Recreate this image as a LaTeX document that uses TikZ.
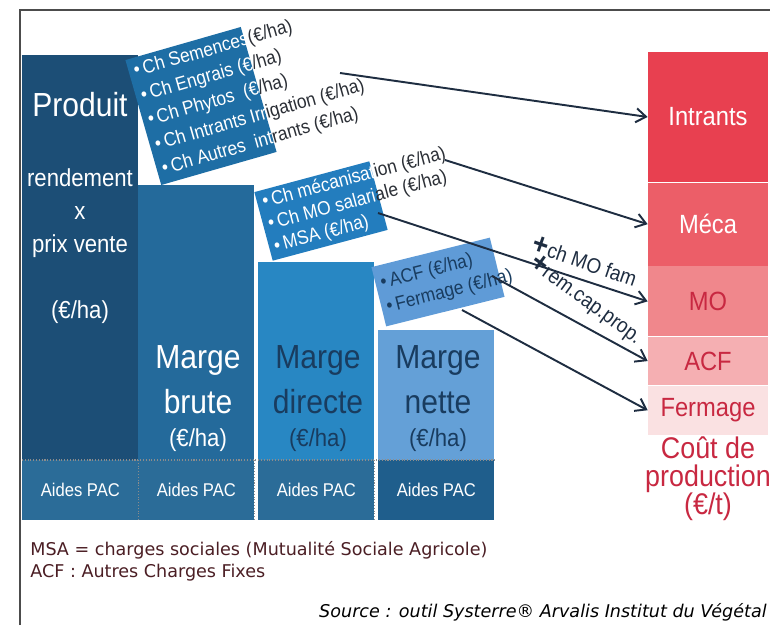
\documentclass[tikz,border=0pt]{standalone}
\usepackage{fontspec}
\setmainfont{Liberation Sans}[FakeStretch=0.9]
\newfontfamily\notefont{DejaVu Sans}
\usetikzlibrary{arrows.meta, calc, positioning}
\definecolor{produitc}{HTML}{1C4E76}
\definecolor{brutec}{HTML}{246A9B}
\definecolor{directec}{HTML}{2887C3}
\definecolor{nettec}{HTML}{64A0D7}
\definecolor{aidesc}{HTML}{2B6C98}
\definecolor{aidesnc}{HTML}{1F5E8C}
\definecolor{tagac}{HTML}{1E6EA5}
\definecolor{tagbc}{HTML}{237DBE}
\definecolor{tagcc}{HTML}{5F9BD7}
\definecolor{intrantsc}{HTML}{E84050}
\definecolor{mecac}{HTML}{EC5E68}
\definecolor{moc}{HTML}{F0878C}
\definecolor{acfc}{HTML}{F5AFB2}
\definecolor{fermagec}{HTML}{FAE1E2}
\definecolor{costtxt}{HTML}{C82841}
\definecolor{darktxt}{HTML}{193C5F}
\definecolor{outtxt}{HTML}{2B2F36}
\definecolor{arrowc}{HTML}{1E2D41}
\definecolor{notec}{HTML}{4B1E24}
\tikzstyle{line} = [draw=arrowc, line width=1.1pt, -{Straight Barb[length=2mm, width=2.8mm]}]
\tikzstyle{col} = [rectangle, minimum width=2.32cm, inner sep=0pt, anchor=south west]
\tikzstyle{aides} = [rectangle, minimum width=2.32cm, minimum height=1.2cm, inner sep=0pt, text=white, font=\fontsize{10.5}{12}\selectfont]
\tikzstyle{sep} = [draw=black!45, densely dotted, line width=0.6pt]
\tikzstyle{bigtxt} = [inner sep=0pt, align=center, font=\fontsize{19}{25.6}\selectfont]
\tikzstyle{midtxt} = [inner sep=0pt, align=center, font=\fontsize{14}{18.8}\selectfont]
\tikzstyle{cost} = [rectangle, minimum width=2.4cm, inner sep=0pt, font=\fontsize{15}{18}\selectfont]
\tikzstyle{tag} = [rectangle, inner sep=0pt]
\tikzstyle{taglist} = [align=left, inner sep=3pt, anchor=west, text=white, font=\fontsize{11}{14.5}\selectfont]
\tikzstyle{plus} = [inner sep=0pt, text=arrowc, font=\fontsize{12}{14}\selectfont]

\begin{document}
\begin{tikzpicture}[x=0.02cm, y=-0.02cm]
\useasboundingbox (0,0) rectangle (770,625);
\draw [black!70, line width=0.8pt] (20,625) -- (20,10) -- (770,10);

% columns (€/ha)
\node [col, fill=produitc, minimum height=8.1cm] (produit) at (22,460) {};
\node [col, fill=brutec, minimum height=5.5cm] (brute) at (138,460) {};
\node [col, fill=directec, minimum height=3.96cm] (directe) at (258,460) {};
\node [col, fill=nettec, minimum height=2.6cm] (nette) at (378,460) {};
\node [aides, fill=aidesc, below=0cm of produit] (aidesprod) {Aides PAC};
\node [aides, fill=aidesc, below=0cm of brute] (aidesbrute) {Aides PAC};
\node [aides, fill=aidesc, below=0cm of directe] (aidesdirecte) {Aides PAC};
\node [aides, fill=aidesnc, below=0cm of nette] (aidesnette) {Aides PAC};
\path [sep] (aidesprod.north west) -- (aidesnette.north east);
\path [sep] (aidesprod.north east) -- (aidesprod.south east);
\path [sep] (aidesbrute.north east) -- (aidesbrute.south east);
\path [sep] (aidesdirecte.north east) -- (aidesdirecte.south east);

\node [bigtxt, text=white] (produittxt) at (80,105) {Produit};
\node [midtxt, text=white] (prixtxt) at (80,213) {rendement\\x\\prix vente};
\node [midtxt, text=white] (produitunit) at (80,312) {(€/ha)};
\node [bigtxt, text=white] (brutetxt) at (198,380) {Marge\\brute};
\node [midtxt, text=white] (bruteunit) at (198,440) {(€/ha)};
\node [bigtxt, text=darktxt] (directetxt) at (318,380) {Marge\\directe};
\node [midtxt, text=darktxt] (directeunit) at (318,440) {(€/ha)};
\node [bigtxt, text=darktxt] (nettetxt) at (438,380) {Marge\\nette};
\node [midtxt, text=darktxt] (netteunit) at (438,440) {(€/ha)};

% charges boxes, text runs out of the box
\node [tag, fill=tagac, minimum width=2.4cm, minimum height=2.6cm, rotate=16] (intrantsbox) at (201,106) {};
\node [taglist, rotate=16] (intrantslist) at (intrantsbox.west) {•\,Ch Semences\textcolor{outtxt}{ (€/ha)}\\•\,Ch Engrais (€\textcolor{outtxt}{/ha)}\\•\,Ch Phytos\ \ (€\textcolor{outtxt}{/ha)}\\•\,Ch Intrants Irr\textcolor{outtxt}{igation (€/ha)}\\•\,Ch Autres\ \ int\textcolor{outtxt}{rants (€/ha)}};

\node [tag, fill=tagbc, minimum width=2.38cm, minimum height=1.42cm, rotate=15] (mecabox) at (321,211) {};
\node [taglist, rotate=15, font=\fontsize{11}{13}\selectfont] (mecalist) at (mecabox.west) {•\,Ch mécanisat\textcolor{outtxt}{ion (€/ha)}\\•\,Ch MO salari\textcolor{outtxt}{ale (€/ha)}\\•\,MSA (€/ha)};

\node [tag, fill=tagcc, minimum width=2.44cm, minimum height=1.22cm, rotate=14] (acfbox) at (438,282) {};
\node [taglist, rotate=14, text=darktxt, font=\fontsize{11}{14}\selectfont] (acflist) at (acfbox.west) {•\,ACF (€/ha)\\•\,Fermage (€/ha)};

% cout de production (€/t)
\node [cost, fill=intrantsc, text=white, minimum height=2.6cm] (intrants) at (708,117) {Intrants};
\node [cost, fill=mecac, text=white, minimum height=1.66cm, below=0cm of intrants] (meca) {Méca};
\node [cost, fill=moc, text=costtxt, minimum height=1.4cm, below=0cm of meca] (mo) {MO};
\node [cost, fill=acfc, text=costtxt, minimum height=0.96cm, below=0cm of mo] (acf) {ACF};
\node [cost, fill=fermagec, text=costtxt, minimum height=0.98cm, below=0cm of acf] (fermage) {Fermage};
\node [inner sep=0pt, align=center, text=costtxt, font=\fontsize{17}{16}\selectfont] (cout) at (708,479) {Coût de\\production\\(€/t)};

\coordinate (intrantsfrom) at (340,73);
\coordinate (mecafrom) at (445,160);
\coordinate (mofrom) at (378,213);
\coordinate (acffrom) at (492,276);
\coordinate (fermagefrom) at (462,310);
\path [line] (intrantsfrom) -- (intrants.west);
\path [line] (mecafrom) -- (meca.west);
\path [line] (mofrom) -- (mo.west);
\path [line] (acffrom) -- (acf.west);
\path [line] (fermagefrom) -- (fermage.west);
\node [plus, rotate=-19] (mofam) at (585,261) {{\fontsize{17}{17}\selectfont\bfseries +}ch MO fam};
\node [plus, rotate=-36] (remcap) at (586,300) {{\fontsize{17}{17}\selectfont\bfseries +}rem.cap.prop.};

% notes
\node [anchor=west, align=left, inner sep=0pt, text=notec, font=\notefont\fontsize{10}{12.5}\selectfont] (notes) at (30,561) {MSA = charges sociales (Mutualité Sociale Agricole)\\ACF : Autres Charges Fixes};
\node [anchor=east, inner sep=0pt, font=\notefont\itshape\fontsize{10}{12}\selectfont] (source) at (767,612) {Source : outil Systerre® Arvalis Institut du Végétal};
\end{tikzpicture}
\end{document}
